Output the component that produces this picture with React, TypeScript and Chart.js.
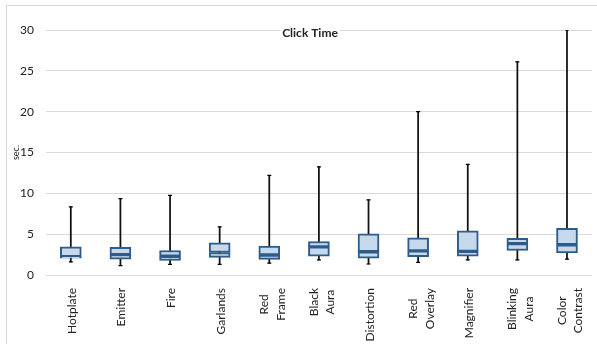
import { useEffect, useRef } from 'react';
import { Chart, registerables } from 'chart.js';

Chart.register(...registerables);

// Technique names (multi-line labels are split into their lines)
const categories: string[][] = [
  ['Hotplate'],
  ['Emitter'],
  ['Fire'],
  ['Garlands'],
  ['Red', 'Frame'],
  ['Black', 'Aura'],
  ['Distortion'],
  ['Red', 'Overlay'],
  ['Magnifier'],
  ['Blinking', 'Aura'],
  ['Color', 'Contrast'],
];

// Click time distribution per technique, in seconds
const whiskerLow = [1.6, 1.15, 1.3, 1.3, 1.45, 1.85, 1.35, 1.55, 1.85, 1.85, 1.95];
const quartile1 = [2.05, 1.95, 1.8, 2.15, 1.9, 2.3, 2.05, 2.25, 2.3, 3.0, 2.7];
const medians = [2.25, 2.5, 2.3, 2.75, 2.45, 3.45, 2.85, 2.95, 2.9, 3.85, 3.7];
const quartile3 = [3.45, 3.4, 3.0, 3.95, 3.55, 4.1, 5.05, 4.55, 5.4, 4.5, 5.7];
const whiskerHigh = [8.35, 9.35, 9.75, 5.9, 12.2, 13.25, 9.2, 20.0, 13.55, 26.1, 30];

const yMin = 0;
const yMax = 30;
const yStep = 5;

const chartTitle = 'Click Time';
const yAxisTitle = 'sec.';

const FONT = 'Lato';
const TEXT = '#222222';
const GRID = '#d9d9d9';
const BOX_FILL = '#c5d8ec';
const BOX_EDGE = '#2e5c8a';

const decorations = {
  id: 'decorations',
  beforeDraw(chart: Chart) {
    const { ctx } = chart;
    ctx.save();
    ctx.fillStyle = '#ffffff';
    ctx.fillRect(0, 0, chart.width, chart.height);
    ctx.strokeStyle = GRID;
    ctx.lineWidth = 1;
    ctx.strokeRect(6.5, 5.5, chart.width + 10, chart.height + 10);
    ctx.restore();
  },
  afterDraw(chart: Chart) {
    const { ctx, chartArea } = chart;
    const xs = chart.scales.x;

    // category labels, rotated, lines centred on each other
    ctx.save();
    ctx.font = `12px ${FONT}`;
    ctx.fillStyle = TEXT;
    ctx.textAlign = 'center';
    ctx.textBaseline = 'alphabetic';
    categories.forEach((lines, i) => {
      const cx = xs.getPixelForValue(i);
      const w = Math.max(...lines.map((l) => ctx.measureText(l).width));
      const cy = chartArea.bottom + 13 + w / 2;
      lines.forEach((line, j) => {
        const bx = cx + 5 - 6 * (lines.length - 1) + j * 16.5;
        ctx.save();
        ctx.translate(bx, cy);
        ctx.rotate(-Math.PI / 2);
        ctx.fillText(line, 0, 0);
        ctx.restore();
      });
    });
    ctx.restore();

    // chart title sitting on the top gridline
    ctx.save();
    ctx.font = `bold 12px ${FONT}`;
    const tw = ctx.measureText(chartTitle).width;
    const tx = 310;
    const ty = chartArea.top + 3;
    ctx.fillStyle = '#ffffff';
    ctx.fillRect(tx - tw / 2 - 2, ty - 8, tw + 4, 15);
    ctx.fillStyle = TEXT;
    ctx.textAlign = 'center';
    ctx.textBaseline = 'middle';
    ctx.fillText(chartTitle, tx, ty);
    ctx.restore();
  },
};

export default function App() {
  const canvasRef = useRef<HTMLCanvasElement | null>(null);

  useEffect(() => {
    const canvas = canvasRef.current;
    if (!canvas) return;
    Chart.defaults.font.family = FONT;

    const labels = categories.map((c) => c.join(' '));
    const boxCommon = {
      type: 'bar' as const,
      backgroundColor: BOX_FILL,
      borderColor: BOX_EDGE,
      borderWidth: 2,
      borderSkipped: false as const,
      barThickness: 21,
      grouped: false,
    };
    const capCommon = {
      type: 'line' as const,
      showLine: false,
      pointStyle: 'line' as const,
      pointRadius: 2,
      pointBorderWidth: 1.2,
      pointBorderColor: '#000000',
      borderColor: '#000000',
    };

    const chart = new Chart(canvas, {
      type: 'bar',
      data: {
        labels,
        datasets: [
          { ...capCommon, label: 'max', data: whiskerHigh },
          { ...capCommon, label: 'min', data: whiskerLow },
          { ...boxCommon, label: 'upper', data: quartile3.map((q, i) => [medians[i], q]) },
          { ...boxCommon, label: 'lower', data: quartile1.map((q, i) => [q, medians[i]]) },
          {
            type: 'bar',
            label: 'whisker',
            data: whiskerLow.map((lo, i) => [lo, whiskerHigh[i]]),
            backgroundColor: '#111111',
            borderWidth: 0,
            barThickness: 1.1,
            grouped: false,
          },
        ] as any,
      },
      options: {
        animation: false,
        responsive: false,
        devicePixelRatio: 1,
        layout: { padding: { top: 30, right: 0, bottom: 0, left: 7 } },
        plugins: {
          legend: { display: false },
          tooltip: { enabled: false },
          title: { display: false },
        },
        scales: {
          x: {
            grid: { display: false },
            border: { display: false },
            ticks: { display: false },
            afterFit: (scale: any) => {
              scale.height = 69;
            },
          },
          y: {
            min: yMin,
            max: yMax,
            grid: { color: GRID, lineWidth: 1, drawTicks: false },
            border: { display: false },
            ticks: {
              stepSize: yStep,
              padding: 12,
              color: TEXT,
              font: { size: 12, family: FONT },
            },
            title: {
              display: true,
              text: yAxisTitle,
              color: TEXT,
              font: { size: 9, family: FONT },
              padding: { top: 4, bottom: 4 },
            },
            afterFit: (scale: any) => {
              scale.width = 39;
            },
          },
        },
      },
      plugins: [decorations],
    });

    return () => chart.destroy();
  }, []);

  return (
    <div style={{ position: 'fixed', left: 0, top: 0, width: 597, height: 344, background: '#fff' }}>
      <canvas ref={canvasRef} width={597} height={344} style={{ width: 597, height: 344, display: 'block' }} />
    </div>
  );
}
